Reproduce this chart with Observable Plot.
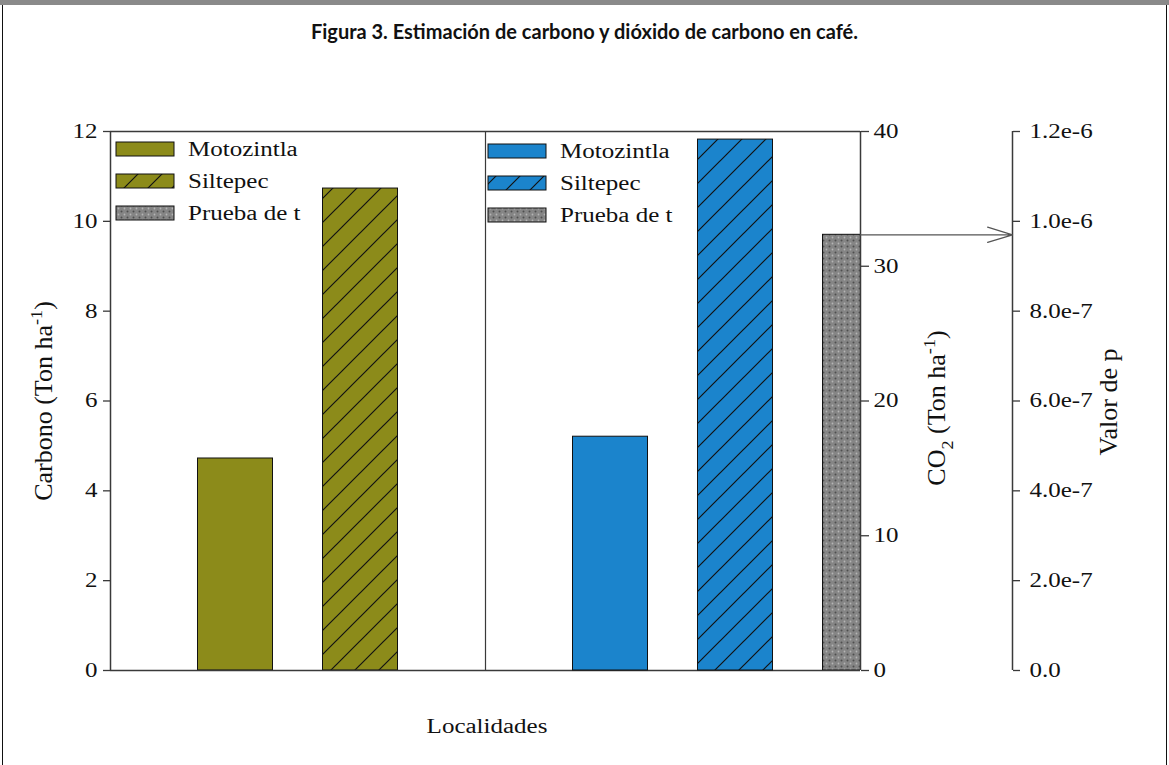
<!DOCTYPE html>
<html><head><meta charset="utf-8">
<script src="https://cdn.jsdelivr.net/npm/d3@7"></script>
<script src="https://cdn.jsdelivr.net/npm/@observablehq/plot@0.6"></script>
<style>
body{margin:0;background:#fff;}
#fig{position:relative;width:1169px;height:765px;overflow:hidden;background:#fff;}
.layer{position:absolute;left:0;top:65px;}
#title{position:absolute;top:19px;left:0;width:1169px;text-align:center;font-family:Lato,'Open Sans',sans-serif;font-weight:bold;font-size:20px;color:#111;}
</style></head><body>
<div id="fig">
  <div style="position:absolute;left:0;top:0;width:1169px;height:5px;background:#8a8a8a"></div>
  <div style="position:absolute;left:2px;top:5px;width:1px;height:760px;background:#111"></div>
  <div style="position:absolute;left:1166px;top:5px;width:1px;height:760px;background:#111"></div>
  <div id="title">Figura 3. Estimación de carbono y dióxido de carbono en café.</div>
  <svg width="0" height="0" style="position:absolute">
    <defs>
      <pattern id="hatchOlive" patternUnits="userSpaceOnUse" width="24" height="24">
        <rect width="24" height="24" fill="#8c8b1a"/>
        <path d="M0,24L24,0M-6,6L6,-6M18,30L30,18" stroke="#111" stroke-width="1.2"/>
      </pattern>
      <pattern id="hatchBlue" patternUnits="userSpaceOnUse" width="24" height="24">
        <rect width="24" height="24" fill="#1b84cc"/>
        <path d="M0,24L24,0M-6,6L6,-6M18,30L30,18" stroke="#111" stroke-width="1.2"/>
      </pattern>
      <pattern id="dots" patternUnits="userSpaceOnUse" width="6" height="6">
        <rect width="6" height="6" fill="#858585"/>
        <circle cx="1.5" cy="1.5" r="1" fill="#4e4e4e"/>
        <circle cx="4.5" cy="4.5" r="0.9" fill="#b5b5b5"/>
      </pattern>
    </defs>
  </svg>
</div>
<script>
// ---- data ----
const localidades = ["Motozintla", "Siltepec"];
const seriesNames = ["Motozintla", "Siltepec", "Prueba de t"];
const carbono = [4.72, 10.73];          // Ton ha-1
const co2 = [17.35, 39.4];              // Ton ha-1
const pValor = 9.7e-7;                  // prueba de t
const carbonTicks = [0, 2, 4, 6, 8, 10, 12];
const co2Ticks = [0, 10, 20, 30, 40];
const pTicks = [0, 2e-7, 4e-7, 6e-7, 8e-7, 1e-6, 1.2e-6];
const xLabel = "Localidades";

// ---- styles ----
const olive = "#8c8b1a", blue = "#1b84cc";
const carbonFill = {Motozintla: olive, Siltepec: "url(#hatchOlive)"};
const co2Fill = {Motozintla: blue, Siltepec: "url(#hatchBlue)"};
const dotsFill = "url(#dots)";
const frameStroke = "#3a3a3a";
const serif = "'Liberation Serif','Times New Roman',serif";
const W = 1169, H = 700, mL = 110, mR = 309, mT = 66, mB = 95;
const nSlots = 6, barHalf = 0.3;
const pxPerSlot = (W - mL - mR) / nSlots;
const pAxisDx = 152;
const stretch = 1.25;
const rotStretch = 1.3;

// tables
const carbonData = localidades.map((s, i) => ({serie: s, slot: i + 1, value: carbono[i]}));
const co2Data = localidades.map((s, i) => ({serie: s, slot: 3 + i + 1, value: co2[i]}));
const pData = [{serie: seriesNames[2], slot: 3 + 3, value: pValor}];

const base = {
  width: W, height: H, marginTop: mT, marginBottom: mB, marginLeft: mL, marginRight: mR,
  x: {domain: [0, nSlots], axis: null},
  color: {type: "identity"},
  style: {background: "transparent", fontFamily: serif, fontSize: "20px", color: "#111", overflow: "visible"}
};

const plotA = Plot.plot({...base,
  y: {domain: [0, 12], axis: null},
  marks: [
    Plot.rectY(carbonData, {x1: d => d.slot - barHalf, x2: d => d.slot + barHalf, y: "value",
      fill: d => carbonFill[d.serie], stroke: "#111", strokeWidth: 1}),
    Plot.ruleY([0], {stroke: frameStroke, strokeWidth: 1.5}),
    Plot.ruleY([12], {stroke: frameStroke, strokeWidth: 1.5}),
    Plot.ruleX([0], {stroke: frameStroke, strokeWidth: 1.5}),
    Plot.ruleX([3], {stroke: frameStroke, strokeWidth: 1.2}),
    Plot.axisY({anchor: "left", ticks: carbonTicks, tickSize: 7, tickPadding: 6, label: null, stroke: frameStroke, strokeWidth: 1.3})
  ]
});

const plotB = Plot.plot({...base,
  y: {domain: [0, 40], axis: null},
  marks: [
    Plot.rectY(co2Data, {x1: d => d.slot - barHalf, x2: d => d.slot + barHalf, y: "value",
      fill: d => co2Fill[d.serie], stroke: "#111", strokeWidth: 1}),
    Plot.axisY({anchor: "right", ticks: co2Ticks, tickSize: 8, tickPadding: 5, label: null, stroke: frameStroke, strokeWidth: 1.3})
  ]
});

const plotC = Plot.plot({...base,
  y: {domain: [0, 1.2e-6], axis: null},
  marks: [
    Plot.rectY(pData, {x1: d => d.slot - barHalf, x2: d => d.slot + barHalf, y: "value",
      fill: dotsFill, stroke: "#111", strokeWidth: 1, clip: true}),
    Plot.ruleX([nSlots], {stroke: frameStroke, strokeWidth: 1.5}),
    Plot.ruleX([nSlots], {dx: pAxisDx, stroke: frameStroke, strokeWidth: 1.5}),
    Plot.axisY({anchor: "right", dx: pAxisDx, ticks: pTicks, tickSize: 7, tickPadding: 10, label: null,
      stroke: frameStroke, strokeWidth: 1.3,
      tickFormat: d => d === 0 ? "0.0" : d.toExponential(1)}),
    Plot.arrow(pData, {x1: "slot", y1: "value", x2: d => d.slot + pAxisDx / pxPerSlot, y2: "value",
      headLength: 30, headAngle: 34, stroke: "#555", strokeWidth: 1.3})
  ]
});

const fig = document.getElementById("fig");
for (const p of [plotA, plotB, plotC]) {
  p.classList.add("layer");
  p.style.position = "absolute"; p.style.left = "0px"; p.style.top = "65px";
  fig.appendChild(p);
}

// ---- annotation overlay: axis titles and legends ----
const ann = d3.select(fig).append("svg")
  .attr("width", W).attr("height", 765)
  .style("position", "absolute").style("left", 0).style("top", 0)
  .style("font-family", serif).style("font-size", "20px").attr("fill", "#111");

function rotLabel(x, y, parts) {
  const t = ann.append("text").attr("text-anchor", "middle")
    .attr("transform", `translate(${x},${y}) scale(${stretch},${rotStretch}) rotate(-90)`);
  for (const [txt, opt] of parts) {
    const ts = t.append("tspan").text(txt);
    if (opt) { ts.attr("dy", opt.dy).attr("font-size", opt.size); }
  }
}
rotLabel(52, 401, [["Carbono (Ton ha"], ["-1", {dy: -8, size: 14}], [")", {dy: 8, size: 20}]]);
rotLabel(945, 408, [["CO"], ["2", {dy: 6, size: 14}], [" (Ton ha", {dy: -6, size: 20}], ["-1", {dy: -8, size: 14}], [")", {dy: 8, size: 20}]]);
rotLabel(1117, 402, [["Valor de p"]]);

ann.append("text").attr("class", "stretch").attr("x", 487).attr("y", 733)
  .attr("text-anchor", "middle").text(xLabel);

function legend(x0, y0, fills) {
  seriesNames.forEach((s, i) => {
    const cy = y0 + i * 32;
    ann.append("rect").attr("x", x0).attr("y", cy - 7).attr("width", 58).attr("height", 14)
      .attr("fill", fills[i]).attr("stroke", "#111").attr("stroke-width", 1);
    ann.append("text").attr("class", "stretch").attr("x", x0 + 72).attr("y", cy + 7).text(s);
  });
}
legend(116, 149, [olive, "url(#hatchOlive)", dotsFill]);
legend(488, 151, [blue, "url(#hatchBlue)", dotsFill]);

// horizontal stretch of serif text (the original figure is widened)
const texts = [...document.querySelectorAll('.stretch'), ...document.querySelectorAll('svg [aria-label$="tick label"] text')];
for (const t of texts) {
  const w = t.getComputedTextLength();
  t.setAttribute("textLength", w * stretch);
  t.setAttribute("lengthAdjust", "spacingAndGlyphs");
}
</script>
</body></html>
